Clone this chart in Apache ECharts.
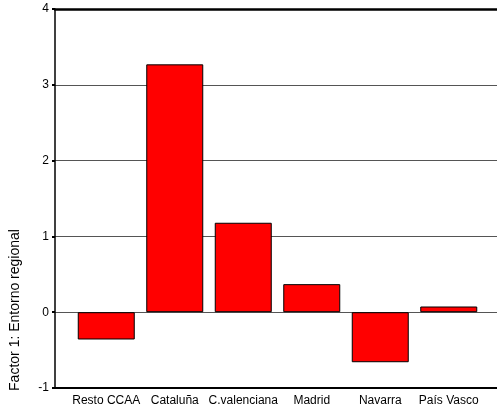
<!DOCTYPE html>
<html>
<head>
<meta charset="utf-8">
<script src="https://cdn.jsdelivr.net/npm/echarts@6/dist/echarts.min.js"></script>
<style>
  html, body { margin: 0; padding: 0; background: #fff; }
</style>
</head>
<body>
<div id="chart" style="width: 497px; height: 416px;"></div>
<script>
const categories = ['Resto CCAA', 'Cataluña', 'C.valenciana', 'Madrid', 'Navarra', 'País Vasco'];
const factorValues = [-0.36, 3.27, 1.18, 0.37, -0.66, 0.075];
const yTicks = [-1, 0, 1, 2, 3, 4];
const yTitle = 'Factor 1: Entorno regional';

const chart = echarts.init(document.getElementById('chart'));
const font = 'Liberation Sans, Arial, sans-serif';

const option = {
  animation: false,
  grid: [
    {left: 55, right: 0, top: 9, bottom: 28}, // frame + gridlines
    {left: 72, right: 14, top: 9, bottom: 28} // bars
  ],
  xAxis: [
    {
      gridIndex: 0, type: 'value', position: 'bottom', min: 0, max: 1,
      axisLine: {onZero: false, lineStyle: {color: '#000', width: 2}},
      axisTick: {show: false}, axisLabel: {show: false}, splitLine: {show: false}
    },
    {
      gridIndex: 0, type: 'value', position: 'top', min: 0, max: 1,
      axisLine: {onZero: false, lineStyle: {color: '#000', width: 2.5}},
      axisTick: {show: false}, axisLabel: {show: false}, splitLine: {show: false}
    },
    {
      gridIndex: 1, type: 'category', data: categories,
      axisLine: {show: false}, axisTick: {show: false},
      axisLabel: {color: '#000', fontSize: 12, fontFamily: font, margin: 7, interval: 0}
    }
  ],
  yAxis: [
    {
      gridIndex: 0, type: 'value',
      min: yTicks[0], max: yTicks[yTicks.length - 1], interval: 1,
      axisLine: {show: true, onZero: false, lineStyle: {color: '#000', width: 1.5}},
      axisTick: {show: true, length: 3, lineStyle: {color: '#000', width: 2}},
      axisLabel: {color: '#000', fontSize: 12, fontFamily: font, margin: 6},
      splitLine: {show: true, lineStyle: {color: '#555', width: 1}}
    },
    {
      gridIndex: 1, type: 'value',
      min: yTicks[0], max: yTicks[yTicks.length - 1], interval: 1,
      show: false
    }
  ],
  graphic: [{
    type: 'text',
    x: 15, y: 310,
    rotation: Math.PI / 2,
    style: {
      text: yTitle, fill: '#000', font: '14px ' + font,
      align: 'center', verticalAlign: 'middle'
    }
  }],
  series: [{
    type: 'bar',
    xAxisIndex: 2, yAxisIndex: 1,
    data: factorValues,
    barWidth: 57,
    itemStyle: {color: '#ff0000', borderColor: '#000', borderWidth: 1}
  }]
};

chart.setOption(option);
</script>
</body>
</html>
